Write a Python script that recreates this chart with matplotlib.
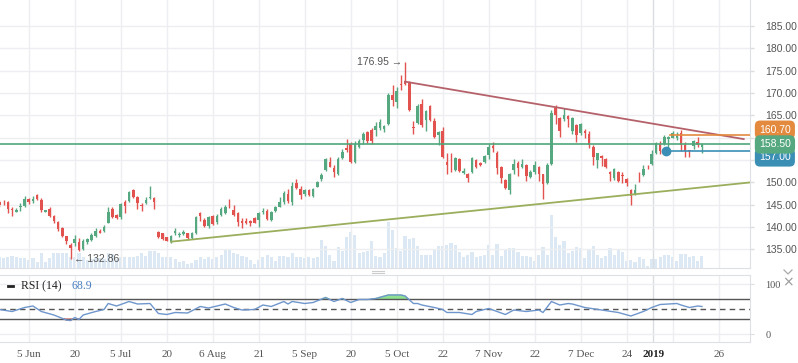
import numpy as np
import matplotlib.pyplot as plt
from matplotlib.lines import Line2D

# daily candles (oldest first)
opens = [145.7, 145.5, 145.55, 144.0, 143.5, 144.4, 144.7, 146.4, 145.9, 147.2,
         146.1, 143.5, 144.1, 142.5, 141.2, 139.7, 138.0, 136.0, 136.4, 136.7,
         135.1, 136.6, 137.1, 138.0, 139.1, 139.2, 141.0, 144.0, 142.7, 142.3,
         145.7, 145.9, 148.2, 146.8, 144.8, 145.3, 146.5, 146.6, 139.0, 138.6,
         137.7, 136.75, 138.7, 138.2, 138.5, 138.6, 137.5, 138.6, 143.1, 141.7,
         140.25, 142.5, 141.2, 142.7, 143.2, 144.6, 143.8, 143.2, 141.4, 141.4,
         141.45, 142.0, 141.6, 143.3, 143.7, 141.6, 143.6, 144.6, 145.7, 147.4,
         145.7, 149.8, 148.5, 147.35, 148.2, 147.0, 149.05, 150.8, 152.8, 154.6,
         153.3, 152.0, 155.5, 157.6, 158.7, 154.6, 158.0, 159.5, 161.2, 161.7,
         161.7, 162.1, 162.0, 163.0, 169.6, 167.9, 172.0, 172.7, 172.5, 162.4,
         163.2, 167.5, 164.0, 167.1, 163.7, 160.6, 161.4, 154.6, 154.9, 152.8,
         155.2, 152.2, 151.9, 152.3, 155.0, 154.4, 154.6, 156.1, 158.2, 156.7,
         153.5, 150.5, 148.3, 152.8, 154.4, 153.5, 153.9, 151.3, 152.4, 153.5,
         151.8, 149.9, 154.1, 166.7, 164.5, 164.2, 164.9, 161.4, 162.8, 161.0,
         161.5, 160.8, 158.0, 155.0, 155.9, 155.2, 152.3, 150.9, 152.3, 151.5,
         150.8, 148.3, 147.3, 151.0, 151.7, 154.0, 154.1, 156.7, 158.5, 158.7,
         159.8, 160.0, 160.0, 161.0, 158.4, 157.2, 158.2, 159.0, 158.0]
highs = [146.0, 146.0, 145.8, 144.6, 144.2, 145.3, 147.0, 146.6, 146.9, 147.5,
         146.6, 143.9, 144.5, 142.7, 141.4, 140.0, 138.1, 136.4, 138.3, 137.6,
         137.3, 137.6, 138.8, 139.8, 139.6, 140.4, 144.4, 144.4, 142.9, 145.3,
         146.0, 148.1, 148.5, 147.0, 145.5, 146.7, 149.1, 146.8, 139.1, 138.7,
         137.8, 138.2, 139.7, 138.9, 139.3, 138.8, 138.9, 142.5, 143.5, 142.1,
         142.4, 142.7, 143.0, 144.4, 144.9, 146.2, 145.0, 143.4, 142.0, 142.0,
         141.7, 142.2, 143.4, 144.3, 144.0, 143.7, 144.8, 146.7, 148.0, 148.6,
         150.2, 150.7, 149.2, 148.6, 148.5, 148.7, 150.3, 152.1, 155.5, 155.6,
         153.8, 155.8, 157.4, 159.7, 159.0, 159.2, 159.8, 161.3, 161.6, 162.1,
         163.5, 164.2, 162.9, 170.0, 171.9, 171.3, 174.0, 176.95, 172.7, 163.7,
         167.6, 168.6, 166.3, 167.4, 164.4, 161.6, 162.5, 156.5, 156.7, 155.8,
         155.4, 153.2, 152.2, 155.6, 155.3, 154.6, 156.2, 158.7, 159.0, 157.0,
         153.6, 150.7, 152.1, 155.2, 154.9, 155.2, 154.1, 152.7, 154.9, 153.7,
         152.0, 154.3, 166.3, 167.3, 164.7, 166.6, 165.2, 164.7, 163.0, 163.2,
         162.0, 161.4, 158.4, 156.7, 156.1, 155.4, 152.5, 153.2, 152.5, 152.3,
         151.0, 148.6, 149.6, 152.3, 154.0, 154.0, 157.2, 159.0, 159.2, 160.6,
         160.4, 161.5, 161.2, 161.7, 159.0, 157.3, 159.4, 160.2, 158.6]
lows = [144.6, 144.9, 143.1, 142.6, 143.4, 143.6, 144.5, 145.2, 145.4, 146.1,
        143.3, 143.4, 142.3, 140.9, 139.2, 137.8, 136.2, 132.86, 135.8, 134.6,
        134.8, 136.3, 136.9, 137.7, 138.6, 139.0, 140.9, 142.0, 141.9, 141.9,
        143.2, 145.6, 146.5, 144.0, 143.7, 145.1, 146.2, 144.0, 137.6, 137.1,
        136.8, 136.5, 138.2, 137.7, 138.2, 137.2, 137.3, 138.4, 141.3, 140.1,
        139.7, 140.5, 140.8, 142.5, 143.0, 144.2, 142.4, 140.3, 139.9, 140.8,
        140.3, 140.9, 140.1, 142.9, 141.5, 141.3, 143.4, 144.4, 145.2, 145.3,
        144.9, 148.6, 146.3, 147.0, 147.0, 146.7, 148.9, 150.3, 152.5, 153.4,
        151.2, 151.6, 155.3, 156.9, 154.3, 154.4, 157.8, 158.7, 158.8, 158.5,
        160.5, 161.8, 161.2, 162.8, 167.2, 166.6, 170.7, 171.9, 165.9, 160.8,
        163.0, 162.5, 161.4, 163.7, 159.9, 158.4, 155.5, 151.8, 152.4, 152.5,
        152.3, 151.9, 150.0, 152.1, 153.3, 153.6, 154.4, 155.3, 156.9, 151.9,
        149.8, 148.6, 147.5, 152.0, 151.5, 153.2, 150.3, 151.1, 152.0, 150.3,
        146.4, 149.6, 153.9, 163.0, 160.2, 163.8, 162.4, 160.9, 159.1, 160.7,
        160.0, 157.8, 153.9, 153.3, 153.6, 153.3, 150.3, 150.5, 150.0, 149.8,
        149.1, 145.0, 147.1, 150.2, 151.5, 153.0, 153.9, 156.4, 156.4, 158.3,
        157.5, 159.9, 159.5, 157.0, 155.8, 155.8, 157.5, 157.9, 156.5]
closes = [145.0, 145.3, 144.0, 143.8, 143.8, 144.7, 146.4, 145.7, 146.2, 146.4,
          143.8, 143.8, 142.6, 141.4, 139.6, 138.0, 136.9, 135.3, 137.35, 134.9,
          137.0, 137.4, 138.3, 139.2, 138.8, 140.1, 143.5, 142.3, 142.0, 145.1,
          144.7, 147.9, 146.7, 145.3, 144.7, 146.1, 146.8, 145.7, 137.7, 137.3,
          137.0, 138.0, 139.1, 138.5, 139.0, 137.5, 138.6, 142.3, 142.5, 140.25,
          142.2, 140.7, 142.5, 144.0, 144.6, 144.4, 142.7, 141.2, 141.0, 141.0,
          141.0, 141.0, 143.2, 143.6, 141.8, 143.5, 144.6, 145.7, 147.6, 145.8,
          149.2, 148.8, 147.3, 148.2, 147.2, 148.5, 150.0, 151.7, 155.2, 153.5,
          152.3, 155.2, 156.9, 157.3, 154.5, 158.7, 159.3, 160.8, 159.3, 159.3,
          162.7, 163.6, 162.7, 169.6, 168.4, 170.5, 171.8, 172.0, 166.2, 162.1,
          167.2, 162.8, 166.0, 164.0, 160.2, 161.2, 155.8, 153.8, 154.7, 155.5,
          152.6, 152.6, 151.1, 155.4, 153.5, 153.9, 155.9, 157.9, 157.8, 153.3,
          151.1, 148.8, 151.9, 154.1, 153.3, 154.1, 151.5, 152.4, 153.9, 151.9,
          149.6, 153.9, 165.5, 165.1, 161.4, 165.2, 164.2, 164.5, 160.6, 163.0,
          161.0, 158.4, 155.8, 156.5, 155.5, 153.5, 151.9, 153.0, 150.3, 151.4,
          149.8, 147.0, 148.3, 150.9, 153.0, 153.8, 156.4, 158.9, 157.0, 160.1,
          160.1, 161.0, 160.4, 158.4, 157.0, 157.1, 159.3, 158.4, 158.5]
# volume (thousands, relative)
volumes = [113, 97, 107, 123, 113, 97, 97, 80, 97, 63, 147, 63, 97, 147, 153,
           153, 153, 113, 107, 147, 107, 80, 87, 113, 97, 93, 147, 140, 87, 113,
           113, 113, 107, 120, 147, 120, 173, 173, 153, 113, 107, 113, 87, 63, 73,
           40, 47, 80, 113, 93, 113, 93, 113, 133, 180, 180, 147, 140, 120, 110,
           83, 40, 83, 107, 130, 107, 73, 123, 123, 107, 150, 107, 107, 100, 113,
           97, 113, 283, 223, 130, 73, 213, 173, 307, 363, 333, 147, 157, 173, 273,
           123, 107, 150, 457, 383, 200, 173, 323, 290, 303, 223, 133, 133, 133, 190,
           223, 217, 230, 250, 230, 157, 113, 130, 163, 107, 123, 130, 233, 133, 240,
           123, 190, 200, 200, 157, 123, 117, 107, 73, 133, 213, 133, 533, 307, 233,
           273, 147, 167, 213, 200, 97, 180, 223, 133, 97, 123, 200, 133, 183, 163,
           73, 83, 57, 113, 90, 17, 90, 90, 113, 133, 133, 113, 67, 143, 143,
           107, 123, 73, 123]

# RSI(14): bar number -> value
rsi_bar = [0, 3, 6, 8, 10, 13, 16, 17, 18, 19, 20, 23, 25, 26, 28, 29, 31, 33, 36,
           38, 40, 42, 45, 48, 50, 54, 56, 58, 61, 63, 65, 68, 69, 70, 73, 75, 78,
           80, 82, 84, 86, 88, 90, 93, 96, 97, 99, 100, 101, 104, 106, 107, 110,
           113, 114, 117, 121, 123, 126, 129, 130, 132, 134, 136, 137, 140, 144,
           148, 151, 154, 156, 158, 160, 162, 163, 165, 167, 168]
rsi_val = [49, 45, 53, 56, 45, 38, 28, 27, 33, 29, 38, 45, 49, 61, 56, 59, 65, 60, 61,
           41, 39, 43, 42, 55, 52, 60, 53, 48, 49, 58, 55, 65, 60, 65, 61, 63, 73,
           65, 71, 63, 69, 69, 71, 78, 78, 76, 61, 61, 58, 53, 49, 43, 43,
           39, 45, 51, 39, 48, 45, 48, 43, 65, 58, 61, 60, 53, 48,
           43, 36, 45, 53, 59, 60, 61, 58, 53, 56, 55]

tick_bars = [7, 18, 29, 40, 51, 62, 73, 84, 95, 106, 117, 128, 139, 150, 161, 172]
tick_labels = ['5 Jun', '20', '5 Jul', '20', '6 Aug', '21', '5 Sep', '20', '5 Oct',
               '22', '7 Nov', '22', '7 Dec', '24', '', '26']
year_bar, year_label = 156.4, '2019'

last_price = 158.50
orange_level = 160.70
blue_level = 157.00
red_trend = ([97, 178], [172.55, 159.7])
olive_trend = ([41, 179.5], [136.75, 150.0])

UP, DOWN = '#55a87f', '#e2534f'
GRID = '#eceef2'
TXT = '#555555'

W, H = 798, 363
fig = plt.figure(figsize=(W / 100, H / 100), dpi=100)
plot_w = 750 / W
main_rect = [0, 1 - 268 / H, plot_w, 268 / H]
rsi_rect = [0, 1 - 342 / H, plot_w, 67 / H]

xlim = (0.12, 179.5)
bars = np.arange(len(closes))
o, h, l, c = map(np.array, (opens, highs, lows, closes))

# volume behind the price axes
vax = fig.add_axes(main_rect)
vax.bar(bars, volumes, width=0.75, color='#d6e4f1', alpha=0.85, zorder=1)
vax.set_xlim(*xlim)
vax.set_ylim(0, 2680)
vax.axis('off')

ax = fig.add_axes(main_rect)
ax.patch.set_alpha(0)
ax.set_xlim(*xlim)
ax.set_ylim(130.86, 190.82)
for t in tick_bars:
    ax.axvline(t, color=GRID, lw=1, zorder=0)
ax.axvline(year_bar, color='#d9dce0', lw=1, zorder=0)
for p in range(135, 190, 5):
    ax.axhline(p, color=GRID, lw=1, zorder=0)

up = c >= o
col = np.where(up, UP, DOWN)
ax.vlines(bars, l, h, colors=col, lw=1, zorder=3)
body_lo = np.minimum(o, c)
body_h = np.maximum(np.abs(c - o), 0.18)
ax.bar(bars, body_h, bottom=body_lo, width=0.62, color=col, zorder=4)

ax.plot(*red_trend, color='#b5616a', lw=1.3, zorder=5)
ax.plot(*olive_trend, color='#9aae5c', lw=1.3, zorder=5)
ax.axhline(last_price, color='#4fa77b', lw=1.2, zorder=5)
ax.plot([160.4, xlim[1]], [orange_level] * 2, color='#e38a3e', lw=1.2, zorder=5)
ax.plot([159.3, xlim[1]], [blue_level] * 2, color='#3b8fb5', lw=1.2, zorder=5)
ax.plot([159.3], [blue_level], 'o', color='#3b8fb5', ms=6, zorder=6)

ax.text(96.3, 176.95, '176.95 →', ha='right', va='center', fontsize=7.5, color=TXT,
        family=['Liberation Sans', 'DejaVu Sans'])
ax.text(17.7, 132.86, '← 132.86', ha='left', va='center', fontsize=7.5, color=TXT,
        family=['Liberation Sans', 'DejaVu Sans'])

# 160 and 155 sit under the price tags, as in the original
yt = list(range(135, 190, 5))
ax.yaxis.tick_right()
ax.set_yticks(yt)
ax.set_yticklabels(['' if v in (155, 160) else f'{v:.2f}' for v in yt])
ax.tick_params(axis='y', length=3, width=1, color='#dddddd', pad=8, labelsize=7.5,
               labelcolor=TXT)
for lbl in ax.get_yticklabels():
    lbl.set_family('Liberation Sans')
ax.set_xticks([])
for s in ('top', 'left'):
    ax.spines[s].set_visible(False)
for s in ('right', 'bottom'):
    ax.spines[s].set_color('#dde0e4')

# price tags on the axis (green one on top)
for lvl, fc, dy in ((blue_level, '#3b8fb5', -1.4), (orange_level, '#e38a3e', 1.1),
                    (last_price, '#55a87f', 0.0)):
    ax.annotate(f'{lvl:.2f}', xy=(1.012, lvl + dy), xycoords=('axes fraction', 'data'),
                ha='left', va='center', fontsize=7.5, color='white',
                family='Liberation Sans', annotation_clip=False,
                bbox=dict(boxstyle='round,pad=0.4,rounding_size=0.5', fc=fc, ec='none'))

# RSI panel
rax = fig.add_axes(rsi_rect)
rax.set_xlim(*xlim)
rax.set_ylim(-16, 118)
for t in tick_bars:
    rax.axvline(t, color=GRID, lw=1, zorder=0)
rax.axvline(year_bar, color='#d9dce0', lw=1, zorder=0)
rax.axhline(0, color=GRID, lw=1, zorder=0)
rax.axhline(100, color=GRID, lw=1, zorder=0)
rx, ry = np.array(rsi_bar, float), np.array(rsi_val, float)
rax.plot(rx, ry, color='#6f96cc', lw=1, zorder=3)
rax.fill_between(rx, 70, ry, where=ry > 70, interpolate=True, color='#8fe08f', zorder=2)
rax.fill_between(rx, 30, ry, where=ry < 30, interpolate=True, color='#f08080', zorder=2)
rax.axhline(70, color='#555555', lw=1, zorder=2)
rax.axhline(30, color='#555555', lw=1, zorder=2)
rax.axhline(50, color='#555555', lw=1, ls=(0, (4, 3)), zorder=2)
rax.yaxis.tick_right()
rax.set_yticks([0, 100])
rax.tick_params(axis='y', length=3, color='#dddddd', pad=8, labelsize=7.5, labelcolor=TXT)
for lbl in rax.get_yticklabels():
    lbl.set_family('Liberation Serif')
rax.set_xticks(tick_bars + [year_bar])
rax.set_xticklabels(tick_labels + [year_label], family='Liberation Serif', fontsize=8,
                    color=TXT)
rax.get_xticklabels()[-1].set_fontweight('bold')
rax.get_xticklabels()[-1].set_color('#222222')
rax.tick_params(axis='x', length=0, pad=6)
rax.spines['left'].set_visible(False)
for s in ('top', 'right', 'bottom'):
    rax.spines[s].set_color('#dde0e4')

rax.plot([0.011, 0.017], [0.83, 0.83], transform=rax.transAxes, color='#222222', lw=2)
rax.text(0.028, 0.83, 'RSI (14)', transform=rax.transAxes, va='center', fontsize=8.5,
         family='Liberation Serif', color='#222222')
rax.text(0.096, 0.83, '68.9', transform=rax.transAxes, va='center', fontsize=8.5,
         family='Liberation Serif', color='#4a7fc1')

# small chrome: pane handle, collapse chevron and close mark
for yy in (270.5, 272.5):
    fig.add_artist(Line2D([372 / W, 384 / W], [1 - yy / H] * 2, color='#cccccc', lw=0.8))
fig.add_artist(Line2D([784 / W, 788 / W, 792 / W], [1 - 270 / H, 1 - 274 / H, 1 - 270 / H],
                      color='#aaaaaa', lw=0.9))
fig.text(788 / W, 1 - 282 / H, '×', ha='center', va='center', fontsize=10, color='#999999')

fig.savefig('out.png', dpi=100)
